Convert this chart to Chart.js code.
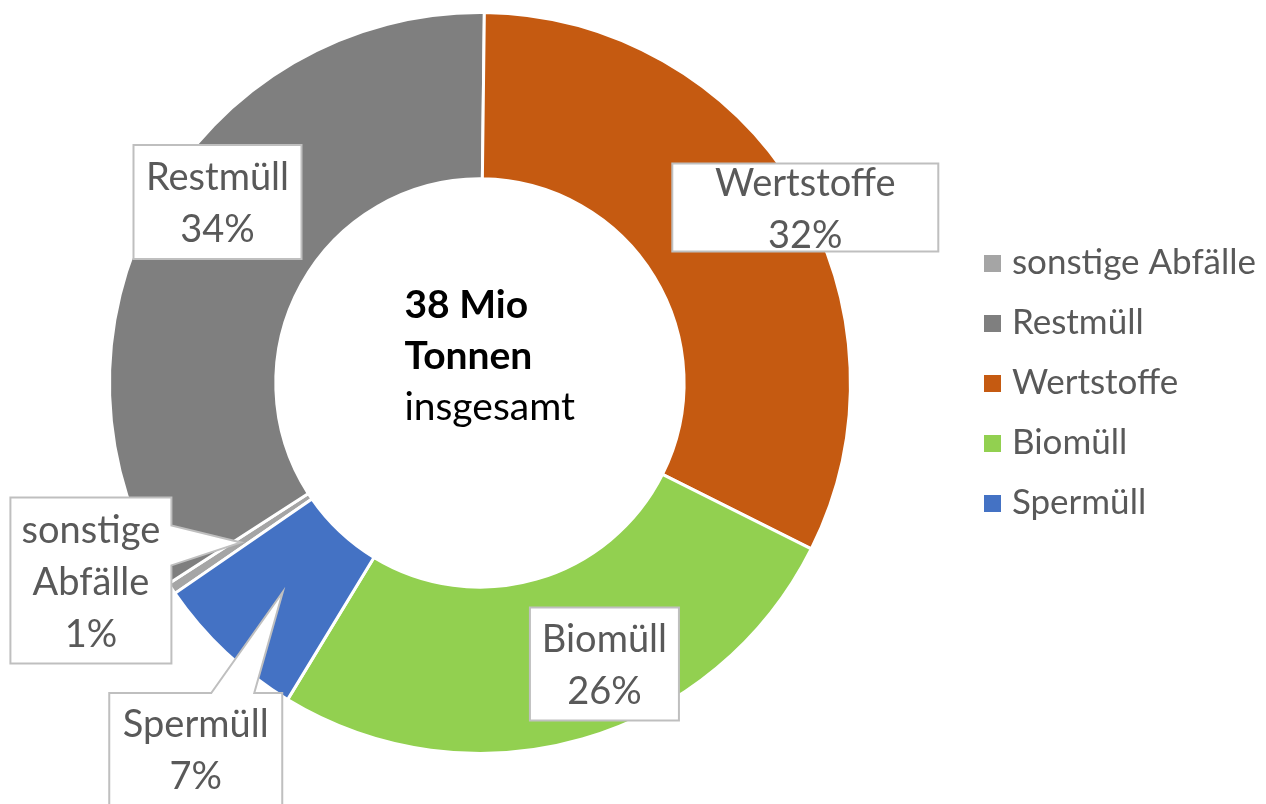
<!DOCTYPE html>
<html lang="de">
<head>
<meta charset="utf-8">
<script src="https://cdn.jsdelivr.net/npm/chart.js@4.4.1/dist/chart.umd.min.js"></script>
<style>
  html, body { margin: 0; padding: 0; background: #fff; }
  #wrap { width: 1266px; height: 804px; position: relative; }
</style>
</head>
<body>
<div id="wrap"><canvas id="chart-abfall"></canvas></div>
<script>
// Daten
const categories = ['sonstige Abfälle', 'Restmüll', 'Wertstoffe', 'Biomüll', 'Spermüll'];
const shares = [0.5, 34.3, 32.2, 26.3, 6.7]; // Anteil in %
const totalLines = ['38 Mio', 'Tonnen', 'insgesamt'];
const colors = ['#a5a5a5', '#7f7f7f', '#c55a11', '#92d050', '#4472c4'];

const FONT = 'Lato, Carlito, Calibri, sans-serif';
const TEXT_GREY = '#595959';
const LABEL_SIZE = 38;
const LEGEND_SIZE = 35;
const LEGEND_PAD = 25;

// Beschriftungskästen: Versatz zum Segmentmittelpunkt + Größe
const labelBoxes = [
  { dx: -150, dy: 38, w: 161, h: 166, callout: { side: 'right', from: 28, to: 68 } },
  { dx: -11, dy: -42, w: 168, h: 114 },
  { dx: 80, dy: -26, w: 266, h: 88 },
  { dx: 45, dy: 5, w: 149, h: 113 },
  { dx: -87, dy: 157, w: 173, h: 112, callout: { side: 'top', from: 102, to: 145 } },
];

// kleine Quadrate für die Legende
function squareIcon(color, size) {
  const c = document.createElement('canvas');
  c.width = size; c.height = size;
  const g = c.getContext('2d');
  g.fillStyle = color;
  g.fillRect(0, 0, size, size);
  return c;
}

function wrapText(ctx, text, maxW) {
  const words = text.split(' ');
  const lines = [];
  let cur = '';
  words.forEach(w => {
    const test = cur ? cur + ' ' + w : w;
    if (cur && ctx.measureText(test).width > maxW) {
      lines.push(cur);
      cur = w;
    } else {
      cur = test;
    }
  });
  if (cur) lines.push(cur);
  return lines;
}

function boxPath(ctx, x, y, w, h, callout, tip) {
  ctx.beginPath();
  ctx.moveTo(x, y);
  if (callout && callout.side === 'top') {
    ctx.lineTo(x + callout.from, y);
    ctx.lineTo(tip.x, tip.y);
    ctx.lineTo(x + callout.to, y);
  }
  ctx.lineTo(x + w, y);
  if (callout && callout.side === 'right') {
    ctx.lineTo(x + w, y + callout.from);
    ctx.lineTo(tip.x, tip.y);
    ctx.lineTo(x + w, y + callout.to);
  }
  ctx.lineTo(x + w, y + h);
  ctx.lineTo(x, y + h);
  ctx.closePath();
}

// Ring etwas nach links schieben (Plotbereich wie im Original)
const shiftPlugin = {
  id: 'shiftArea',
  afterLayout(chart) {
    chart.chartArea.left -= 6.5;
    chart.chartArea.width += 6.5;
  }
};

// Datenbeschriftungen mit Kästen
const labelPlugin = {
  id: 'boxLabels',
  afterDatasetsDraw(chart) {
    const ctx = chart.ctx;
    const meta = chart.getDatasetMeta(0);
    ctx.save();
    ctx.font = LABEL_SIZE + 'px ' + FONT;
    meta.data.forEach((arc, i) => {
      const tip = arc.tooltipPosition();
      const b = labelBoxes[i];
      const cx = tip.x + b.dx;
      const cy = tip.y + b.dy;
      const x = cx - b.w / 2;
      const y = cy - b.h / 2;

      boxPath(ctx, x, y, b.w, b.h, b.callout, tip);
      ctx.fillStyle = '#fff';
      ctx.fill();
      ctx.strokeStyle = '#bfbfbf';
      ctx.lineWidth = 2;
      ctx.stroke();

      const lines = wrapText(ctx, categories[i], b.w - 16);
      lines.push(Math.round(shares[i]) + '%');
      const lh = 52;
      ctx.fillStyle = TEXT_GREY;
      ctx.textAlign = 'center';
      ctx.textBaseline = 'middle';
      lines.forEach((t, j) => {
        ctx.fillText(t, cx, cy + (j - (lines.length - 1) / 2) * lh + 2);
      });
    });
    ctx.restore();
  }
};

// Text in der Mitte
const centerPlugin = {
  id: 'centerText',
  afterDraw(chart) {
    const ctx = chart.ctx;
    const arc = chart.getDatasetMeta(0).data[0];
    ctx.save();
    ctx.fillStyle = '#000';
    ctx.textAlign = 'left';
    ctx.textBaseline = 'alphabetic';
    totalLines.forEach((t, j) => {
      ctx.font = (j < 2 ? 'bold ' : '') + '39px ' + FONT;
      ctx.fillText(t, arc.x - 75.5, arc.y - 65 + j * 51);
    });
    ctx.restore();
  }
};

// Platz rechts für die Legende (Text soll bei x = 1013 beginnen)
const mctx = document.createElement('canvas').getContext('2d');
mctx.font = LEGEND_SIZE + 'px ' + FONT;
const legendTextW = Math.max(...categories.map(c => mctx.measureText(c).width));
const legendPadRight = Math.max(0, 1266 - 1013 - 10 - legendTextW);

const ctxEl = document.getElementById('chart-abfall');
new Chart(ctxEl, {
  type: 'doughnut',
  data: {
    labels: categories,
    datasets: [{
      data: shares,
      backgroundColor: colors,
      borderColor: '#fff',
      borderWidth: 3,
      hoverBorderWidth: 3,
      hoverOffset: 0,
    }]
  },
  options: {
    responsive: true,
    maintainAspectRatio: false,
    animation: false,
    rotation: -124.6,
    cutout: '55.1%',
    layout: {
      padding: { top: 11, bottom: 49, left: 0, right: legendPadRight }
    },
    plugins: {
      tooltip: { enabled: false },
      legend: {
        position: 'right',
        align: 'center',
        labels: {
          font: { family: FONT, size: LEGEND_SIZE },
          color: TEXT_GREY,
          padding: LEGEND_PAD,
          boxHeight: 17,
          usePointStyle: true,
          pointStyleWidth: 3,
          generateLabels(chart) {
            const items = Chart.overrides.doughnut.plugins.legend.labels.generateLabels(chart);
            items.forEach((it, i) => {
              it.pointStyle = squareIcon(colors[i], 17);
              it.lineWidth = 0;
            });
            return items;
          }
        }
      }
    }
  },
  plugins: [shiftPlugin, labelPlugin, centerPlugin]
});
</script>
</body>
</html>
